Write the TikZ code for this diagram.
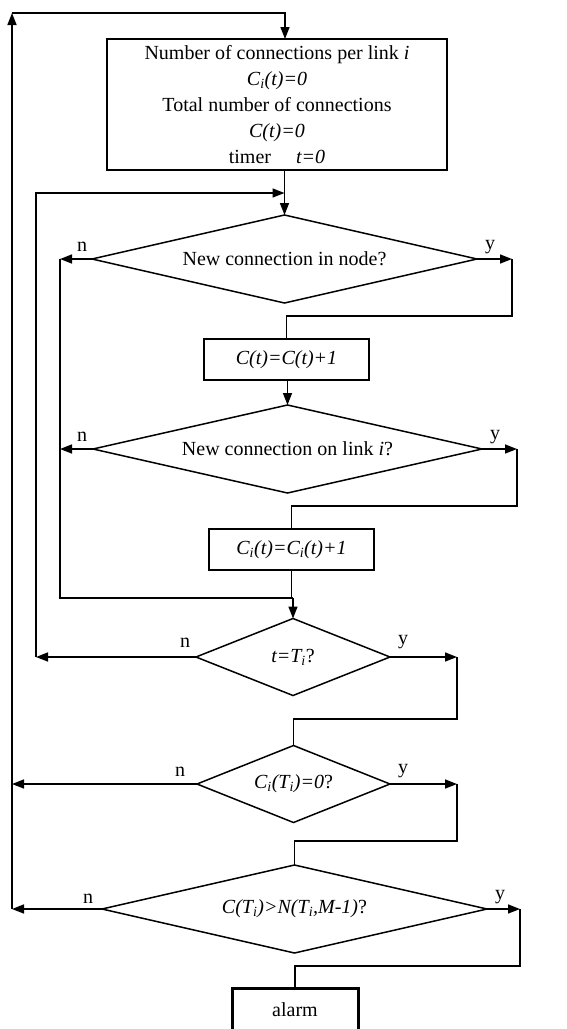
\documentclass[tikz,border=0pt]{standalone}
\usepackage{fontspec}
\setmainfont{Liberation Serif}
\usetikzlibrary{shapes.geometric,arrows.meta}
\begin{document}
\begin{tikzpicture}[x=1pt,y=-1pt, line width=1.5pt,
  font=\fontsize{20}{26}\selectfont,
  box/.style={draw, rectangle, inner sep=0pt, outer sep=0pt, align=center},
  dec/.style={draw, diamond, inner sep=0pt, outer sep=0pt},
  arr/.style={-{Triangle[length=12pt,width=9pt]}},
  lab/.style={inner sep=0pt}]
\useasboundingbox (0,0) rectangle (566,1029);

% nodes
\node[box, minimum width=340pt, minimum height=131pt] (init) at (277,104.5)
  {Number of connections per link \textit{i}\\
   \textit{C\textsubscript{i}(t)=0}\\
   Total number of connections\\
   \textit{C(t)=0}\\
   timer\quad\ \textit{t=0}};
\node[dec, aspect=4.4, minimum width=385pt, minimum height=88pt] (d1) at (284.5,259) {New connection in node?};
\node[box, minimum width=165pt, minimum height=41pt] (b1) at (286.5,359.5) {\textit{C(t)=C(t)+1}};
\node[dec, aspect=4.4, minimum width=389pt, minimum height=88pt] (d2) at (287.5,449) {New connection on link \textit{i}?};
\node[box, minimum width=165pt, minimum height=41pt] (b2) at (291.5,549.5) {\textit{C\textsubscript{i}(t)=C\textsubscript{i}(t)+1}};
\node[dec, aspect=2.5, minimum width=194pt, minimum height=77pt] (d3) at (293,657) {\textit{t=T\textsubscript{i}}?};
\node[dec, aspect=2.5, minimum width=193pt, minimum height=77pt] (d4) at (293.5,784) {\textit{C\textsubscript{i}(T\textsubscript{i})=0}?};
\node[dec, aspect=4.4, minimum width=385pt, minimum height=88pt] (d5) at (294.5,909) {\textit{C(T\textsubscript{i})>N(T\textsubscript{i},M-1)}?};
\node[box, line width=3pt, minimum width=126pt, minimum height=44pt] (alarm) at (295,1010) {alarm};

% labels
\node[lab] (n1) at (82,247) {n};
\node[lab] (y1) at (490,247) {y};
\node[lab] (n2) at (82,437) {n};
\node[lab] (y2) at (495,437) {y};
\node[lab] (n3) at (185,643) {n};
\node[lab] (y3) at (403,642) {y};
\node[lab] (n4) at (180,772) {n};
\node[lab] (y4) at (403,771) {y};
\node[lab] (n5) at (88,899) {n};
\node[lab] (y5) at (500,897) {y};

% loop coordinates
\coordinate (L1) at (12,0);
\coordinate (L3) at (60,0);
\coordinate (tl) at (12,13);
\coordinate (tr) at (285,13);
\coordinate (m2) at (36,193);
\coordinate (jn) at (293,598);

% outer loop
\draw[arr] (d4.west) -- (d4.west -| L1);
\draw[arr] (d5.west) -- (d5.west -| L1);
\draw[arr] (d5.west -| L1) -- (tl);
\draw[arr] (tl) -- (tr) -- (tr |- init.north);

% init to d1
\draw[arr] (d1.north |- init.south) -- (d1.north);

% second loop
\draw[arr] (d3.west) -- (d3.west -| m2);
\draw[arr] (d3.west -| m2) -- (m2) -- (m2 -| d1.north);

% inner loop
\draw[arr] (d1.west) -- (d1.west -| L3);
\draw[arr] (d2.west) -- (d2.west -| L3);
\draw (d1.west -| L3) -- (L3 |- jn) -- (jn);
\draw (b2.south) -- (b2.south |- jn) -- (jn);
\draw[arr] (jn) -- (d3.north);

% yes branches
\draw[arr] (d1.east) -- ++(35,0) coordinate (r1);
\draw (r1) -- ++(0,57) -| (b1.north);
\draw[arr] (d2.north |- b1.south) -- (d2.north);
\draw[arr] (d2.east) -- ++(35,0) coordinate (r2);
\draw (r2) -- ++(0,57) -| (b2.north);
\draw[arr] (d3.east) -- ++(67,0) coordinate (r3);
\draw (r3) -- ++(0,62) -| (d4.north);
\draw[arr] (d4.east) -- ++(67,0) coordinate (r4);
\draw (r4) -- ++(0,57) -| (d5.north);
\draw[arr] (d5.east) -- ++(33,0) coordinate (r5);
\draw (r5) -- ++(0,57) -| (alarm.north);
\end{tikzpicture}
\end{document}
